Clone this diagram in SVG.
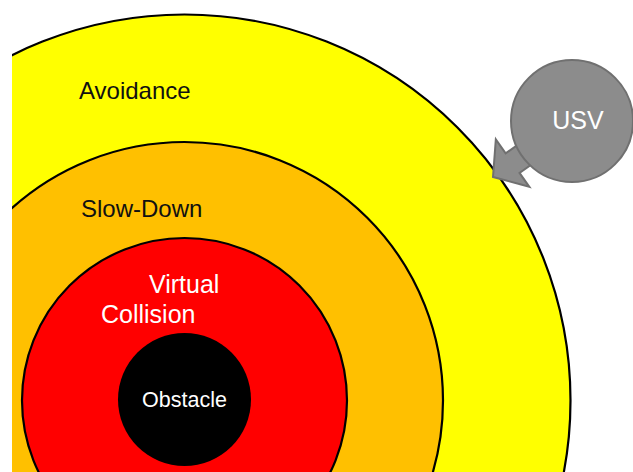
<svg xmlns="http://www.w3.org/2000/svg" width="633" height="472" viewBox="0 0 633 472">
<style>
.ring{stroke:#000;stroke-width:2.2}
.lbl{font-family:"Liberation Sans",Arial,sans-serif;font-size:24px}
.dark{fill:#111}
.light{fill:#fff}
</style>
<defs>
<clipPath id="clip"><rect x="12" y="0" width="621" height="472"/></clipPath>
</defs>
<rect width="633" height="472" fill="#fff"/>
<g clip-path="url(#clip)">
<g id="avoidance">
<circle class="ring" cx="184.5" cy="400.5" r="386" fill="#FFFF00"/>
<text class="lbl dark" x="79" y="99">Avoidance</text>
</g>
<g id="slowdown">
<circle class="ring" cx="184.5" cy="400.5" r="258.5" fill="#FFC000"/>
<text class="lbl dark" x="81" y="216.5">Slow-Down</text>
</g>
<g id="virtual-collision">
<circle class="ring" cx="184.5" cy="400.5" r="162.5" fill="#FF0000"/>
<text class="lbl light" x="149" y="293" style="font-size:25px">Virtual</text>
<text class="lbl light" x="101" y="323" style="font-size:25px">Collision</text>
</g>
<g id="obstacle">
<circle cx="184.5" cy="399.5" r="66.5" fill="#000"/>
<text class="lbl light" x="184.5" y="407" text-anchor="middle" style="font-size:21.5px">Obstacle</text>
</g>
</g>
<g id="connectors">
<polygon transform="translate(493,177) rotate(144.7)" points="0,0 -24,-29 -24,-12 -62,-12 -62,12 -24,12 -24,29" fill="#8C8C8C" stroke="#707070" stroke-width="2" stroke-linejoin="miter"/>
</g>
<g id="usv">
<circle cx="572" cy="121" r="61" fill="#8C8C8C" stroke="#707070" stroke-width="2"/>
<text class="lbl light" x="578" y="129" text-anchor="middle" style="font-size:25px">USV</text>
</g>
</svg>
